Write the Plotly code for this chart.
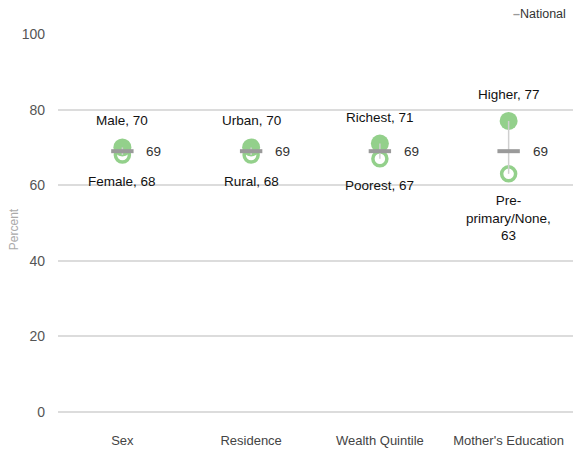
import plotly.graph_objects as go

# Data
categories = ["Sex", "Residence", "Wealth Quintile", "Mother's Education"]
high_labels = ["Male", "Urban", "Richest", "Higher"]
high_values = [70, 70, 71, 77]
low_labels = ["Female", "Rural", "Poorest", "Pre-<br>primary/None,<br>"]
low_values = [68, 68, 67, 63]
national = [69, 69, 69, 69]

GREEN = "#93d08b"
GREY_DASH = "#9a9a9a"
CONNECT = "#cfcfcf"
FONT = "Liberation Sans, Arial, sans-serif"

xs = list(range(len(categories)))
fig = go.Figure()

# low group (open ring)
fig.add_trace(go.Scatter(x=xs, y=low_values, mode="markers",
                         marker=dict(size=14, color="white", line=dict(width=3.5, color=GREEN)),
                         showlegend=False))
# high group (filled)
fig.add_trace(go.Scatter(x=xs, y=high_values, mode="markers",
                         marker=dict(size=18, color=GREEN, line=dict(width=0)),
                         showlegend=False))

# connector lines between low and high value
for i in xs:
    fig.add_trace(go.Scatter(x=[i, i], y=[low_values[i], high_values[i]], mode="lines",
                             line=dict(color=CONNECT, width=1.5), hoverinfo="skip",
                             showlegend=False))

# national value
fig.add_trace(go.Scatter(x=xs, y=national, mode="markers",
                         marker=dict(symbol="line-ew", size=16,
                                     line=dict(width=4, color=GREY_DASH)),
                         showlegend=False))

annotations = []
for i in xs:
    annotations.append(dict(x=i, y=high_values[i], text=f"{high_labels[i]}, {high_values[i]}",
                            showarrow=False, yanchor="bottom", yshift=17,
                            font=dict(size=13.5, color="#111", family=FONT)))
    sep = "" if low_labels[i].endswith("<br>") else ", "
    annotations.append(dict(x=i, y=low_values[i], text=f"{low_labels[i]}{sep}{low_values[i]}",
                            showarrow=False, yanchor="top", yshift=-17,
                            font=dict(size=13.5, color="#111", family=FONT)))
    annotations.append(dict(x=i, y=national[i], text=str(national[i]), showarrow=False,
                            xanchor="left", xshift=22,
                            font=dict(size=13.5, color="#333", family=FONT)))

# legend key
annotations.append(dict(xref="paper", yref="paper", x=0.99, y=1.05, xanchor="right",
                        yanchor="middle", showarrow=False,
                        text=f"<span style='color:{GREY_DASH}'><b>–</b></span>National",
                        font=dict(size=12.5, color="#333", family=FONT)))

fig.update_layout(
    width=575, height=450,
    margin=dict(l=58, r=2, t=34, b=25),
    plot_bgcolor="white", paper_bgcolor="white",
    showlegend=False,
    annotations=annotations,
    xaxis=dict(range=[-0.5, 3.5], tickvals=xs, ticktext=categories, showgrid=False,
               zeroline=False, showline=False, ticks="", ticklabelstandoff=6,
               tickfont=dict(size=13, color="#444", family=FONT)),
    yaxis=dict(range=[-3.44, 100], tickvals=[0, 20, 40, 60, 80, 100], showgrid=True,
               gridcolor="#dcdcdc", gridwidth=1.5, zeroline=False, showline=False,
               ticks="", ticklabelstandoff=12,
               tickfont=dict(size=14, color="#555", family=FONT),
               title=dict(text="Percent", font=dict(size=12, color="#aaa", family=FONT),
                          standoff=0)),
)

fig.write_html("out.html")
